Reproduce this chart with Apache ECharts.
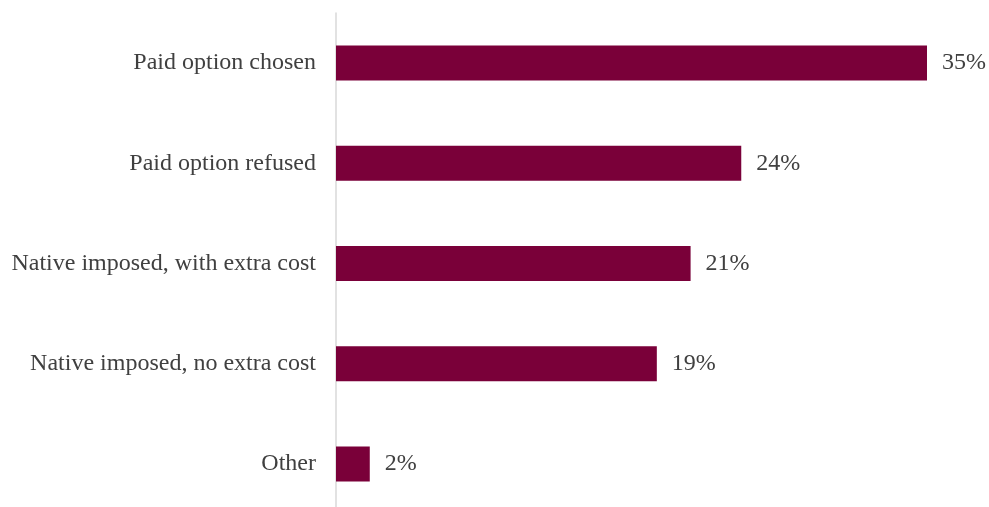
<!DOCTYPE html>
<html>
<head>
<meta charset="utf-8">
<script src="https://cdn.jsdelivr.net/npm/echarts@6/dist/echarts.min.js"></script>
<style>
  html, body { margin: 0; padding: 0; background: #ffffff; overflow: hidden; }
  /* the plot area runs slightly past the bottom edge of the page */
  #chart { width: 989px; height: 515px; }
</style>
</head>
<body>
<div id="chart"></div>
<script>
// Categories listed bottom-to-top (category axis runs upward)
const categories = [
  'Other',
  'Native imposed, no extra cost',
  'Native imposed, with extra cost',
  'Paid option refused',
  'Paid option chosen'
];
const shares = [2, 19, 21, 24, 35];

const chart = echarts.init(document.getElementById('chart'));
chart.setOption({
  animation: false,
  grid: { left: 336, top: 13, width: 591, bottom: 1, containLabel: false },
  xAxis: {
    type: 'value',
    min: 0,
    max: 35,
    show: false
  },
  yAxis: {
    type: 'category',
    data: categories,
    axisLine: { show: true, lineStyle: { color: '#d9d9d9', width: 1.5 } },
    axisTick: { show: false },
    splitLine: { show: false },
    axisLabel: {
      margin: 20,
      color: '#404040',
      fontFamily: 'Liberation Serif',
      fontSize: 24
    }
  },
  series: [{
    type: 'bar',
    data: shares,
    barWidth: 35,
    itemStyle: { color: '#7a0039' },
    label: {
      show: true,
      position: 'right',
      distance: 15,
      formatter: p => p.value + '%',
      color: '#404040',
      fontFamily: 'Liberation Serif',
      fontSize: 24
    }
  }]
});
</script>
</body>
</html>
